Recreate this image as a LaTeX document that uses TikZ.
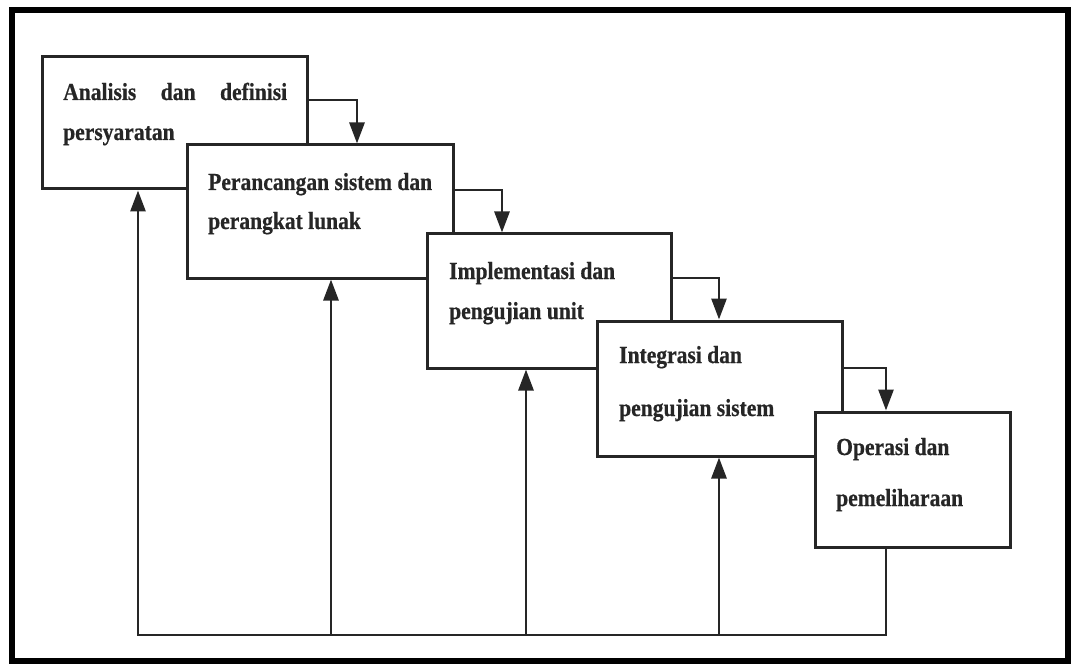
\documentclass[tikz,border=0pt]{standalone}
\usepackage{fontspec}
\newfontfamily\boxfont{Liberation Serif}[FakeStretch=0.88,FakeBold=0.6]
\usetikzlibrary{arrows.meta}
\begin{document}
\begin{tikzpicture}[x=1pt,y=-1pt,
  box/.style={draw=black!85, line width=3pt, fill=white, inner sep=0pt},
  lbl/.style={anchor=base west, inner sep=0pt, font=\boxfont\bfseries\fontsize{24.5}{28}\selectfont, text=black!85},
  conn/.style={draw=black!85, line width=2.8pt},
  arr/.style={conn, -{Triangle[width=15pt,length=21pt]}}]
\useasboundingbox (0,0) rectangle (1072,666);
\draw[line width=6.5pt] (12,10) rectangle (1068,661);

\node[box, minimum width=265pt, minimum height=132pt] (b1) at (174.5,123) {};
\node[lbl] (t1a) at (63,100) {\makebox[224pt][s]{Analisis dan definisi}};
\node[lbl] (t1b) at (63,140) {persyaratan};

\node[box, minimum width=266pt, minimum height=133pt] (b2) at (320,211.5) {};
\node[lbl] (t2a) at (208,190) {Perancangan sistem dan};
\node[lbl] (t2b) at (208,229) {perangkat lunak};

\node[box, minimum width=244pt, minimum height=134pt] (b3) at (549,301) {};
\node[lbl] (t3a) at (449,279) {Implementasi dan};
\node[lbl] (t3b) at (449,319) {pengujian unit};

\node[box, minimum width=245pt, minimum height=135pt] (b4) at (719.5,388.5) {};
\node[lbl] (t4a) at (619,363) {Integrasi dan};
\node[lbl] (t4b) at (619,416) {pengujian sistem};

\node[box, minimum width=195pt, minimum height=135pt] (b5) at (912.5,479.5) {};
\node[lbl] (t5a) at (836,455) {Operasi dan};
\node[lbl] (t5b) at (836,506) {pemeliharaan};

% forward arrows
\draw[arr] (b1.east |- 0,100) -| (357,0 |- b2.north);
\draw[arr] (b2.east |- 0,190) -| (502,0 |- b3.north);
\draw[arr] (b3.east |- 0,278) -| (719,0 |- b4.north);
\draw[arr] (b4.east |- 0,368) -| (886,0 |- b5.north);

% feedback
\coordinate (fb) at (138,635);
\coordinate (f2) at (331,635);
\coordinate (f3) at (526,635);
\coordinate (f4) at (719,635);
\draw[arr] (b5.south -| 886,0) |- (fb) -- (fb |- b1.south);
\draw[arr] (f2) -- (f2 |- b2.south);
\draw[arr] (f3) -- (f3 |- b3.south);
\draw[arr] (f4) -- (f4 |- b4.south);
\end{tikzpicture}
\end{document}
